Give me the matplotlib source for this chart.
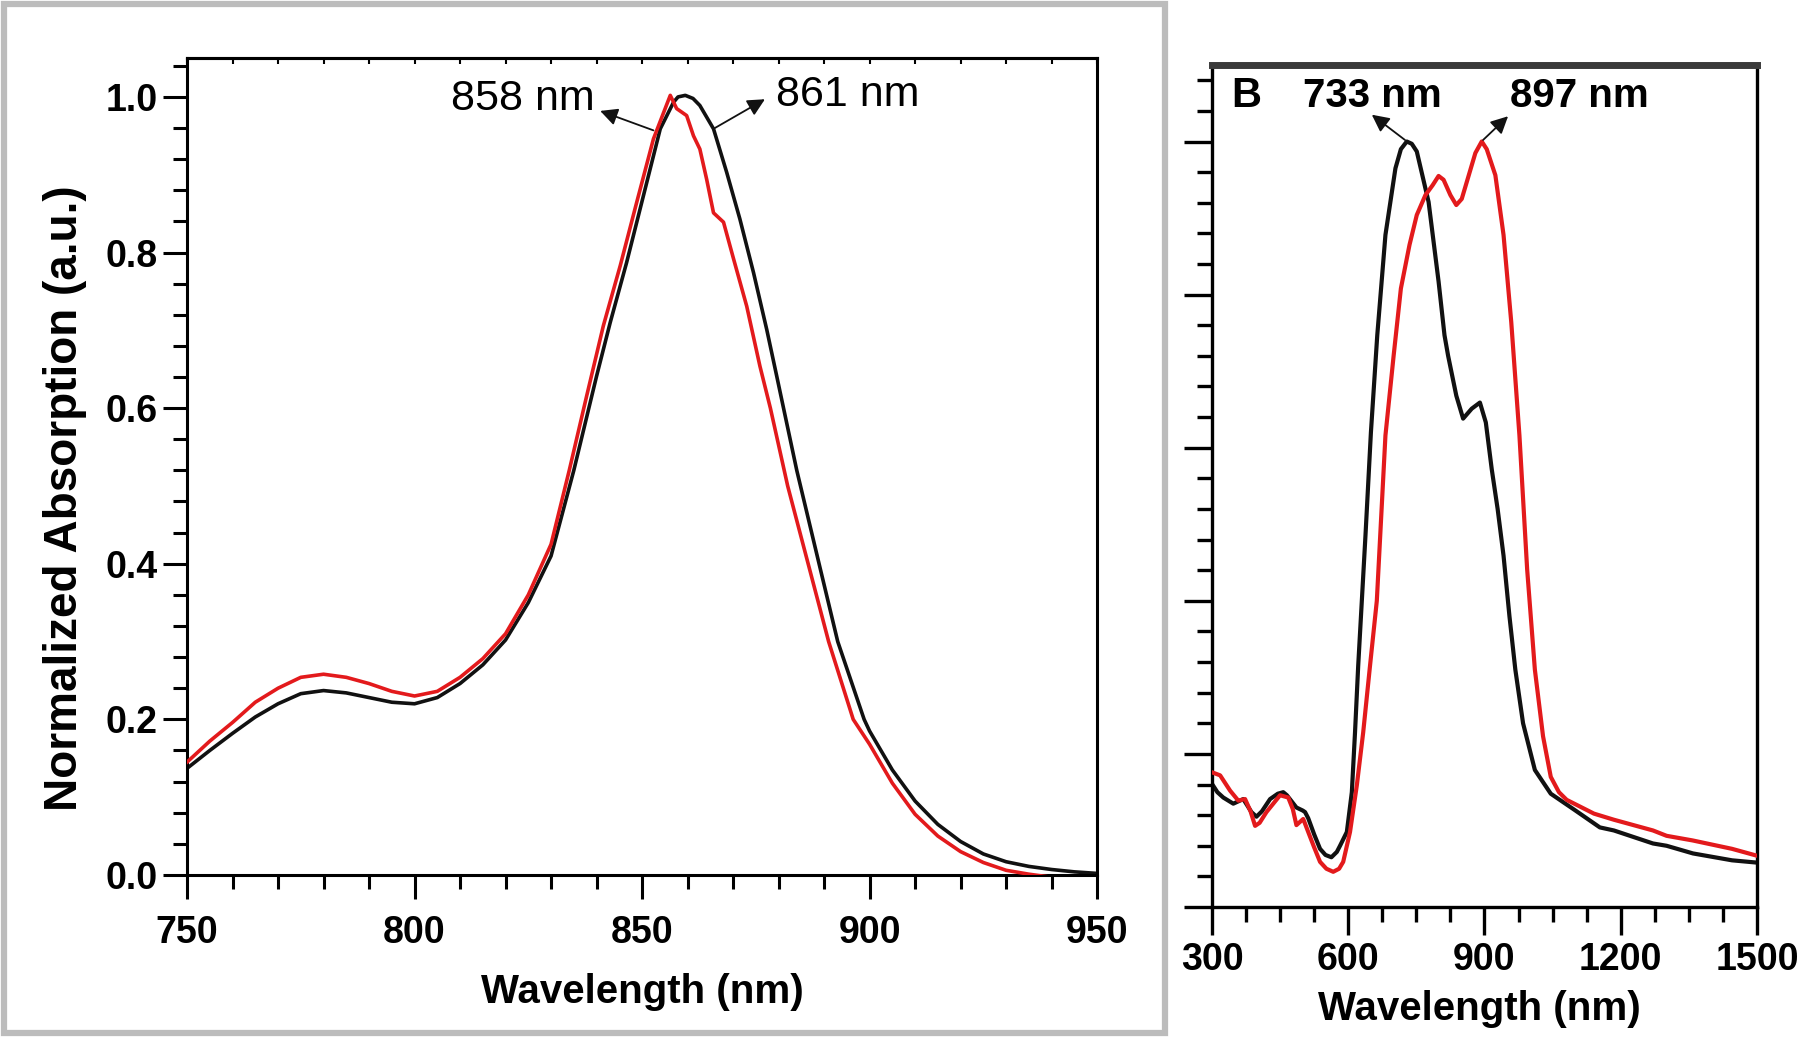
import matplotlib
matplotlib.use("Agg")
import matplotlib.pyplot as plt
from matplotlib.patches import Rectangle
from matplotlib.ticker import MultipleLocator, NullFormatter

plt.rcParams["font.family"] = ["Liberation Sans", "DejaVu Sans"]

# panel A: normalized absorption, 750-950 nm
a_black_nm = [750, 755, 760, 765, 770, 775, 780, 785, 790, 795, 800, 805, 810, 815, 820, 825,
              830, 835, 840, 843, 846.6, 850.3, 854, 856.9, 857.9, 859.5, 861.2, 862.7, 865.7,
              868.6, 871.5, 874.5, 877.4, 879.6, 884, 888.9, 893, 898.8, 900, 905, 910, 915,
              920, 925, 930, 935, 940, 945, 950]
a_black = [0.137, 0.160, 0.182, 0.203, 0.220, 0.233, 0.237, 0.234, 0.228, 0.222, 0.220, 0.228,
           0.246, 0.270, 0.302, 0.350, 0.410, 0.520, 0.641, 0.710, 0.787, 0.873, 0.959, 0.993,
           1.000, 1.002, 0.998, 0.989, 0.959, 0.903, 0.843, 0.774, 0.701, 0.641, 0.52, 0.40,
           0.30, 0.20, 0.185, 0.135, 0.095, 0.065, 0.043, 0.027, 0.017, 0.011, 0.007, 0.004,
           0.002]
a_red_nm = [750, 755, 760, 765, 770, 775, 780, 785, 790, 795, 800, 805, 810, 815, 820, 825, 830,
            834, 837.8, 841.5, 845.2, 848.8, 852.5, 856.2, 857.6, 859.8, 861.3, 862.7, 864.2,
            865.7, 867.9, 870.1, 873, 875.9, 878.2, 882, 886.5, 891, 896.4, 900, 905, 910, 915,
            920, 925, 930, 935, 940]
a_red = [0.145, 0.172, 0.196, 0.222, 0.240, 0.254, 0.258, 0.254, 0.246, 0.236, 0.230, 0.236,
         0.254, 0.278, 0.310, 0.360, 0.425, 0.520, 0.615, 0.706, 0.783, 0.864, 0.946, 1.002,
         0.985, 0.976, 0.950, 0.933, 0.894, 0.851, 0.839, 0.792, 0.731, 0.654, 0.60, 0.50,
         0.40, 0.30, 0.20, 0.168, 0.118, 0.078, 0.050, 0.030, 0.016, 0.006, 0.001, -0.003]

# panel B: 300-1500 nm
b_black_nm = [300, 312, 325, 347, 369, 387, 398, 410, 428, 445, 457, 465, 486, 500, 505, 512,
              525, 538, 550, 563, 575, 582, 597, 608, 615, 622, 630, 638, 650, 664, 682, 704,
              716, 729, 740, 751, 777, 799, 812, 820, 838, 853, 872, 890, 903, 916, 929, 942,
              955, 968, 985, 1011, 1046, 1098, 1154, 1185, 1271, 1301, 1359, 1445, 1500]
b_black = [0.161, 0.150, 0.143, 0.135, 0.141, 0.124, 0.118, 0.125, 0.141, 0.148, 0.150, 0.146,
           0.130, 0.126, 0.124, 0.116, 0.095, 0.076, 0.068, 0.065, 0.072, 0.080, 0.098, 0.150,
           0.228, 0.315, 0.400, 0.485, 0.620, 0.747, 0.878, 0.965, 0.990, 1.000, 0.997, 0.987,
           0.921, 0.817, 0.747, 0.720, 0.668, 0.638, 0.651, 0.659, 0.633, 0.572, 0.520, 0.459,
           0.380, 0.310, 0.240, 0.179, 0.148, 0.127, 0.104, 0.100, 0.083, 0.080, 0.070, 0.061,
           0.058]
b_red_nm = [300, 318, 340, 358, 373, 385, 395, 405, 420, 450, 468, 478, 486, 501, 512, 525, 538,
            552, 567, 580, 589, 604, 619, 633, 648, 663, 682, 700, 716, 735, 751, 770, 786, 799,
            810, 825, 838, 850, 865, 880, 894, 905, 924, 942, 959, 977, 994, 1011, 1029, 1046,
            1064, 1081, 1141, 1185, 1271, 1301, 1358, 1445, 1500]
b_red = [0.176, 0.172, 0.152, 0.139, 0.141, 0.125, 0.106, 0.110, 0.124, 0.146, 0.143, 0.128,
         0.107, 0.115, 0.098, 0.078, 0.059, 0.050, 0.046, 0.050, 0.059, 0.098, 0.159, 0.228,
         0.315, 0.400, 0.616, 0.720, 0.808, 0.865, 0.904, 0.930, 0.943, 0.955, 0.950, 0.930,
         0.917, 0.925, 0.955, 0.985, 1.000, 0.990, 0.956, 0.878, 0.764, 0.616, 0.441, 0.310,
         0.223, 0.170, 0.150, 0.140, 0.122, 0.114, 0.100, 0.093, 0.087, 0.076, 0.067]

RED = "#e31a1c"
BLK = "#111111"

fig = plt.figure(figsize=(18, 10.51), dpi=100)
fig.add_artist(Rectangle((0.0022, 0.0171), 0.645, 0.979, transform=fig.transFigure,
                         fill=False, ec="#bcbcbc", lw=4.5))

# ---- panel A
ax = fig.add_axes([0.1039, 0.1675, 0.5056, 0.7773])
ax.plot(a_red_nm, a_red, color=RED, lw=2.6, zorder=3)
ax.plot(a_black_nm, a_black, color=BLK, lw=2.6, zorder=2)
ax.set_xlim(750, 950); ax.set_ylim(0, 1.05)
ax.xaxis.set_major_locator(MultipleLocator(50)); ax.xaxis.set_minor_locator(MultipleLocator(10))
ax.yaxis.set_major_locator(MultipleLocator(0.2)); ax.yaxis.set_minor_locator(MultipleLocator(0.04))
ax.yaxis.set_major_formatter(lambda v, p: f"{v:.1f}")
ax.tick_params(which="major", direction="out", length=17, width=2.2, labelsize=27)
ax.tick_params(which="minor", direction="out", length=10, width=2.2)
ax.tick_params(axis="x", which="major", pad=12)
ax.tick_params(axis="y", which="major", pad=4)
for lab in ax.get_xticklabels() + ax.get_yticklabels():
    lab.set_fontweight("bold")
for s in ax.spines.values():
    s.set_linewidth(2.2)
top = ax.secondary_xaxis("top")
top.xaxis.set_major_locator(MultipleLocator(10))
top.xaxis.set_major_formatter(NullFormatter())
top.tick_params(direction="in", length=4, width=1.5)
top.spines["top"].set_linewidth(2.2)
ax.set_xlabel("Wavelength (nm)", fontsize=29, fontweight="bold")
ax.set_ylabel("Normalized Absorption (a.u.)", fontsize=33, fontweight="bold")
ax.xaxis.set_label_coords(0.5, -0.12)
ax.yaxis.set_label_coords(-0.11, 0.461)

arrow = dict(arrowstyle="-|>", color=BLK, lw=1.3, mutation_scale=26, shrinkA=0, shrinkB=0)
ax.annotate("", xy=(840.8, 0.982), xytext=(852.5, 0.957), arrowprops=arrow)
ax.annotate("", xy=(877, 0.997), xytext=(865.7, 0.959), arrowprops=arrow)
ax.text(839.5, 0.997, "858 nm", fontsize=31, ha="right", va="center")
ax.text(879.4, 1.002, "861 nm", fontsize=31, ha="left", va="center")

# ---- panel B
bx = fig.add_axes([0.6733, 0.137, 0.3028, 0.8012])
bx.plot(b_red_nm, b_red, color=RED, lw=3.0, zorder=3)
bx.plot(b_black_nm, b_black, color=BLK, lw=3.0, zorder=2)
bx.set_xlim(300, 1500); bx.set_ylim(0, 1.1)
bx.xaxis.set_major_locator(MultipleLocator(300)); bx.xaxis.set_minor_locator(MultipleLocator(75))
bx.yaxis.set_major_locator(MultipleLocator(0.2)); bx.yaxis.set_minor_locator(MultipleLocator(0.04))
bx.yaxis.set_major_formatter(NullFormatter())
bx.tick_params(which="major", direction="out", length=20, width=2.4, labelsize=27)
bx.tick_params(which="minor", direction="out", length=11, width=2.4)
bx.tick_params(axis="x", which="major", pad=5)
for lab in bx.get_xticklabels():
    lab.set_fontweight("bold")
for s in bx.spines.values():
    s.set_linewidth(2.4)
bx.spines["top"].set_linewidth(5)
bx.spines["top"].set_color("#3a3a3a")
bx.set_xlabel("Wavelength (nm)", fontsize=29, fontweight="bold")
bx.xaxis.set_label_coords(0.49, -0.099)

bx.annotate("", xy=(652, 1.035), xytext=(725, 1.002), arrowprops=arrow)
bx.annotate("", xy=(952, 1.033), xytext=(897, 1.002), arrowprops=arrow)
bx.text(375, 1.06, "B", fontsize=30, fontweight="bold", ha="center", va="center")
bx.text(654, 1.06, "733 nm", fontsize=29, fontweight="bold", ha="center", va="center")
bx.text(1108, 1.06, "897 nm", fontsize=29, fontweight="bold", ha="center", va="center")

fig.savefig("out.png", dpi=100, facecolor="white")
plt.close(fig)
